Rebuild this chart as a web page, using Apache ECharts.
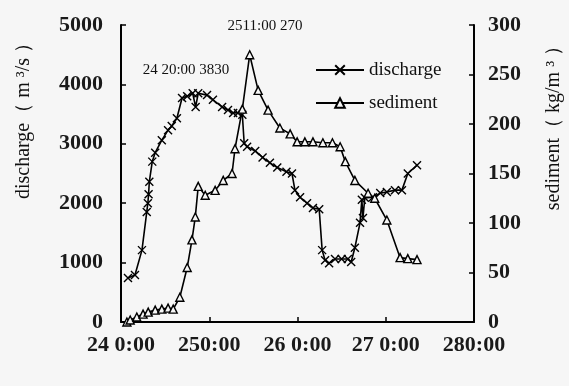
<!DOCTYPE html>
<html>
<head>
<meta charset="utf-8">
<script src="https://cdn.jsdelivr.net/npm/echarts@6/dist/echarts.min.js"></script>
<style>
html,body{margin:0;padding:0;background:#f6f6f6;}
#c{width:569px;height:386px;}
</style>
</head>
<body>
<div id="c"></div>
<script>
// hours since 24 0:00
const xTickLabels = ['24 0:00', '250:00', '26 0:00', '27 0:00', '280:00'];
const dischargeHours = [1.9, 3.8, 5.7, 7.0, 7.3, 7.5, 7.7, 8.5, 9.3, 11.1, 12.8, 13.8, 15.2, 16.6, 18.0, 19.5, 20.3, 21.0, 23.4, 25.0, 27.5, 29.1, 30.5, 31.8, 33.0, 33.5, 34.3, 36.5, 38.5, 40.5, 42.5, 45.0, 46.5, 47.3, 48.7, 50.6, 52.2, 53.9, 54.7, 55.5, 56.6, 58.2, 60.0, 61.7, 62.6, 63.6, 65.0, 65.5, 65.8, 66.3, 68.5, 70.5, 72.3, 74.5, 76.4, 78.0, 80.5];
const dischargeValues = [740, 790, 1210, 1850, 2000, 2150, 2360, 2700, 2850, 3060, 3230, 3300, 3430, 3770, 3800, 3850, 3620, 3850, 3820, 3740, 3620, 3570, 3520, 3520, 3490, 3010, 2950, 2880, 2770, 2680, 2600, 2530, 2500, 2220, 2100, 2000, 1920, 1900, 1210, 1040, 990, 1060, 1060, 1060, 1010, 1250, 1670, 2060, 1750, 2090, 2100, 2170, 2190, 2220, 2220, 2500, 2640];
const sedimentHours = [1.6, 2.5, 4.3, 6.0, 7.4, 9.3, 11.1, 12.8, 14.2, 16.0, 18.0, 19.3, 20.2, 21.0, 22.9, 25.6, 27.8, 30.2, 31.0, 33.0, 35.0, 37.3, 40.0, 43.2, 46.0, 47.9, 50.0, 52.2, 54.9, 57.5, 59.6, 61.0, 63.6, 67.2, 69.0, 72.3, 75.9, 78.0, 80.5];
const sedimentValues = [0, 2, 5, 8, 10, 12, 13, 14, 13, 25, 55, 83, 106, 137, 128, 133, 143, 150, 175, 215, 270, 234, 214, 196, 190, 182, 182, 182, 181, 181, 177, 162, 143, 130, 125, 103, 65, 64, 63];
const annotations = [
  {text: '24 20:00 3830', x: 186, y: 70},
  {text: '2511:00 270', x: 265, y: 26}
];

const serif = '"Liberation Serif", "DejaVu Serif", serif';
const chart = echarts.init(document.getElementById('c'));
const axisCommon = {
  axisLine: {show: true, lineStyle: {color: '#000', width: 2}},
  axisTick: {show: true, inside: true, length: 5, lineStyle: {color: '#000', width: 1.5}},
  splitLine: {show: false},
  axisLabel: {color: '#1a1a1a', fontFamily: serif, fontSize: 22, fontWeight: 'bold'}
};
chart.setOption({
  backgroundColor: '#f6f6f6',
  animation: false,
  grid: {left: 121, right: 95, top: 25, bottom: 64},
  legend: {
    orient: 'vertical', left: 315, top: 60, itemWidth: 48, itemHeight: 12, itemGap: 13, padding: 0,
    textStyle: {fontFamily: serif, fontSize: 19, color: '#111', lineHeight: 20},
    data: ['discharge', 'sediment']
  },
  xAxis: Object.assign({}, axisCommon, {
    type: 'value', min: 0, max: 96, interval: 24,
    axisLabel: Object.assign({}, axisCommon.axisLabel, {margin: 12, formatter: v => xTickLabels[Math.round(v / 24)]})
  }),
  yAxis: [
    Object.assign({}, axisCommon, {type: 'value', min: 0, max: 5000, interval: 1000,
      axisLabel: Object.assign({}, axisCommon.axisLabel, {margin: 18, formatter: v => String(v)})}),
    Object.assign({}, axisCommon, {type: 'value', min: 0, max: 300, interval: 50, position: 'right',
      axisLabel: Object.assign({}, axisCommon.axisLabel, {margin: 14, formatter: v => String(v)})})
  ],
  graphic: [
    {type: 'text', x: 24, y: 116, rotation: Math.PI / 2,
      style: {text: 'discharge（ m ³/s ）', font: '20px ' + serif, fill: '#111', align: 'center', verticalAlign: 'middle'}},
    {type: 'text', x: 554, y: 123, rotation: Math.PI / 2,
      style: {text: 'sediment（ kg/m ³ ）', font: '20px ' + serif, fill: '#111', align: 'center', verticalAlign: 'middle'}}
  ].concat(annotations.map(a => ({type: 'text', x: a.x, y: a.y,
      style: {text: a.text, font: '15px ' + serif, fill: '#111', align: 'center', verticalAlign: 'middle'}}))),
  series: [
    {
      name: 'discharge', type: 'line', yAxisIndex: 0,
      data: dischargeHours.map((h, i) => [h, dischargeValues[i]]),
      symbol: 'path://M0,0L10,10M10,0L0,10', symbolSize: 8, showAllSymbol: true,
      lineStyle: {color: '#000', width: 1.6},
      itemStyle: {color: 'none', borderColor: '#000', borderWidth: 1.4}
    },
    {
      name: 'sediment', type: 'line', yAxisIndex: 1,
      data: sedimentHours.map((h, i) => [h, sedimentValues[i]]),
      symbol: 'triangle', symbolSize: 8, showAllSymbol: true,
      lineStyle: {color: '#000', width: 1.6},
      itemStyle: {color: '#f6f6f6', borderColor: '#000', borderWidth: 1.4}
    }
  ]
});
</script>
</body>
</html>
